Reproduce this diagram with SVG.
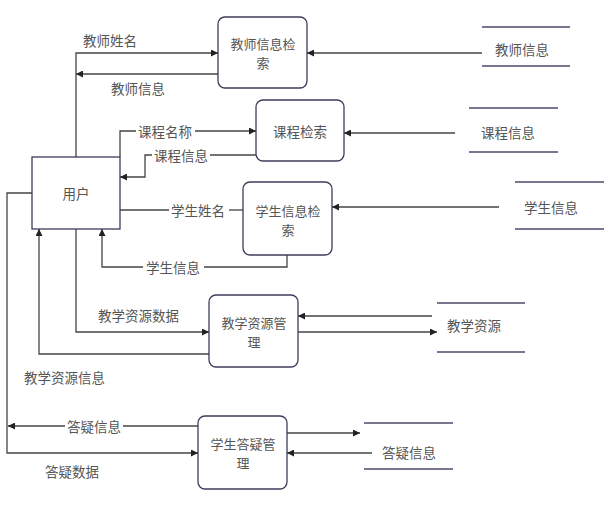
<svg xmlns="http://www.w3.org/2000/svg" width="614" height="512" viewBox="0 0 614 512">
<defs>
<style>
text{font-family:"Noto Sans CJK SC","Noto Sans",sans-serif;font-size:13.5px;fill:#555;dominant-baseline:central}
.box{fill:#fff;stroke:#3d3d5c;stroke-width:1.3}
.store{stroke:#4a4a6a;stroke-width:1.5}
.c{fill:none;stroke:#444;stroke-width:1.3}
.a{marker-end:url(#ah)}
.m{text-anchor:middle;font-size:13.5px}
.m2{text-anchor:middle;font-size:13px}
</style>
<marker id="ah" viewBox="0 0 8 8" refX="8" refY="4" markerWidth="7" markerHeight="7" markerUnits="userSpaceOnUse" orient="auto">
<path d="M0,0 L8,4 L0,8 z" fill="#222"/>
</marker>
</defs>
<rect width="614" height="512" fill="#fff"/>
<g id="connectors">
<path class="c a" d="M76,157 V53 H218"/>
<path class="c a" d="M218,74 H76"/>
<path class="c a" d="M482,53 H307"/>
<path class="c" d="M120,157 V131 H136"/>
<path class="c a" d="M195,131 H256"/>
<path class="c" d="M256,155 H210"/>
<path class="c a" d="M152,155 H145 V177 H120"/>
<path class="c a" d="M455,133 H344"/>
<path class="c" d="M120,210 H169"/>
<path class="c" d="M229,210 H243"/>
<path class="c" d="M287,255 V267 H204"/>
<path class="c a" d="M143,267 H102 V229"/>
<path class="c a" d="M499,207 H332"/>
<path class="c a" d="M76,229 V332 H209"/>
<path class="c a" d="M209,354 H39 V229"/>
<path class="c a" d="M432,316 H298"/>
<path class="c a" d="M298,332 H437"/>
<path class="c a" d="M32,193 H7 V453 H198"/>
<path class="c" d="M198,426 H123"/>
<path class="c a" d="M65,426 H8"/>
<path class="c a" d="M287,433 H360"/>
<path class="c a" d="M372,453 H287"/>
<text x="83" y="40">教师姓名</text>
<text x="111" y="88">教师信息</text>
<text x="138" y="131">课程名称</text>
<text x="154" y="155">课程信息</text>
<text x="171" y="210">学生姓名</text>
<text x="146" y="267">学生信息</text>
<text x="98" y="315">教学资源数据</text>
<text x="24" y="377">教学资源信息</text>
<text x="67" y="426">答疑信息</text>
<text x="45" y="471">答疑数据</text>
</g>
<g id="user">
<rect class="box" x="32" y="157" width="88" height="72"/>
<text class="m" x="76" y="193">用户</text>
</g>
<g id="teacher-search">
<rect class="box" x="218" y="17" width="89" height="71" rx="7"/>
<text class="m2" x="263" y="43">教师信息检</text>
<text class="m2" x="263" y="62">索</text>
</g>
<g id="course-search">
<rect class="box" x="256" y="100" width="88" height="61" rx="7"/>
<text class="m" x="300" y="131">课程检索</text>
</g>
<g id="student-search">
<rect class="box" x="243" y="182" width="89" height="73" rx="7"/>
<text class="m2" x="288" y="210">学生信息检</text>
<text class="m2" x="288" y="229">索</text>
</g>
<g id="resource-mgmt">
<rect class="box" x="209" y="295" width="89" height="72" rx="7"/>
<text class="m2" x="254" y="322">教学资源管</text>
<text class="m2" x="254" y="341">理</text>
</g>
<g id="qa-mgmt">
<rect class="box" x="198" y="416" width="89" height="73" rx="7"/>
<text class="m2" x="243" y="443">学生答疑管</text>
<text class="m2" x="243" y="462">理</text>
</g>
<g id="store-teacher">
<line class="store" x1="482" y1="27" x2="570" y2="27"/>
<line class="store" x1="482" y1="66" x2="570" y2="66"/>
<text x="495" y="49">教师信息</text>
</g>
<g id="store-course">
<line class="store" x1="469" y1="108" x2="558" y2="108"/>
<line class="store" x1="469" y1="152" x2="558" y2="152"/>
<text x="481" y="132">课程信息</text>
</g>
<g id="store-student">
<line class="store" x1="515" y1="182" x2="604" y2="182"/>
<line class="store" x1="515" y1="229" x2="604" y2="229"/>
<text x="524" y="207">学生信息</text>
</g>
<g id="store-resource">
<line class="store" x1="437" y1="303" x2="525" y2="303"/>
<line class="store" x1="437" y1="352" x2="525" y2="352"/>
<text x="447" y="325">教学资源</text>
</g>
<g id="store-qa">
<line class="store" x1="364" y1="423" x2="453" y2="423"/>
<line class="store" x1="364" y1="469" x2="453" y2="469"/>
<text x="382" y="452">答疑信息</text>
</g>
</svg>
